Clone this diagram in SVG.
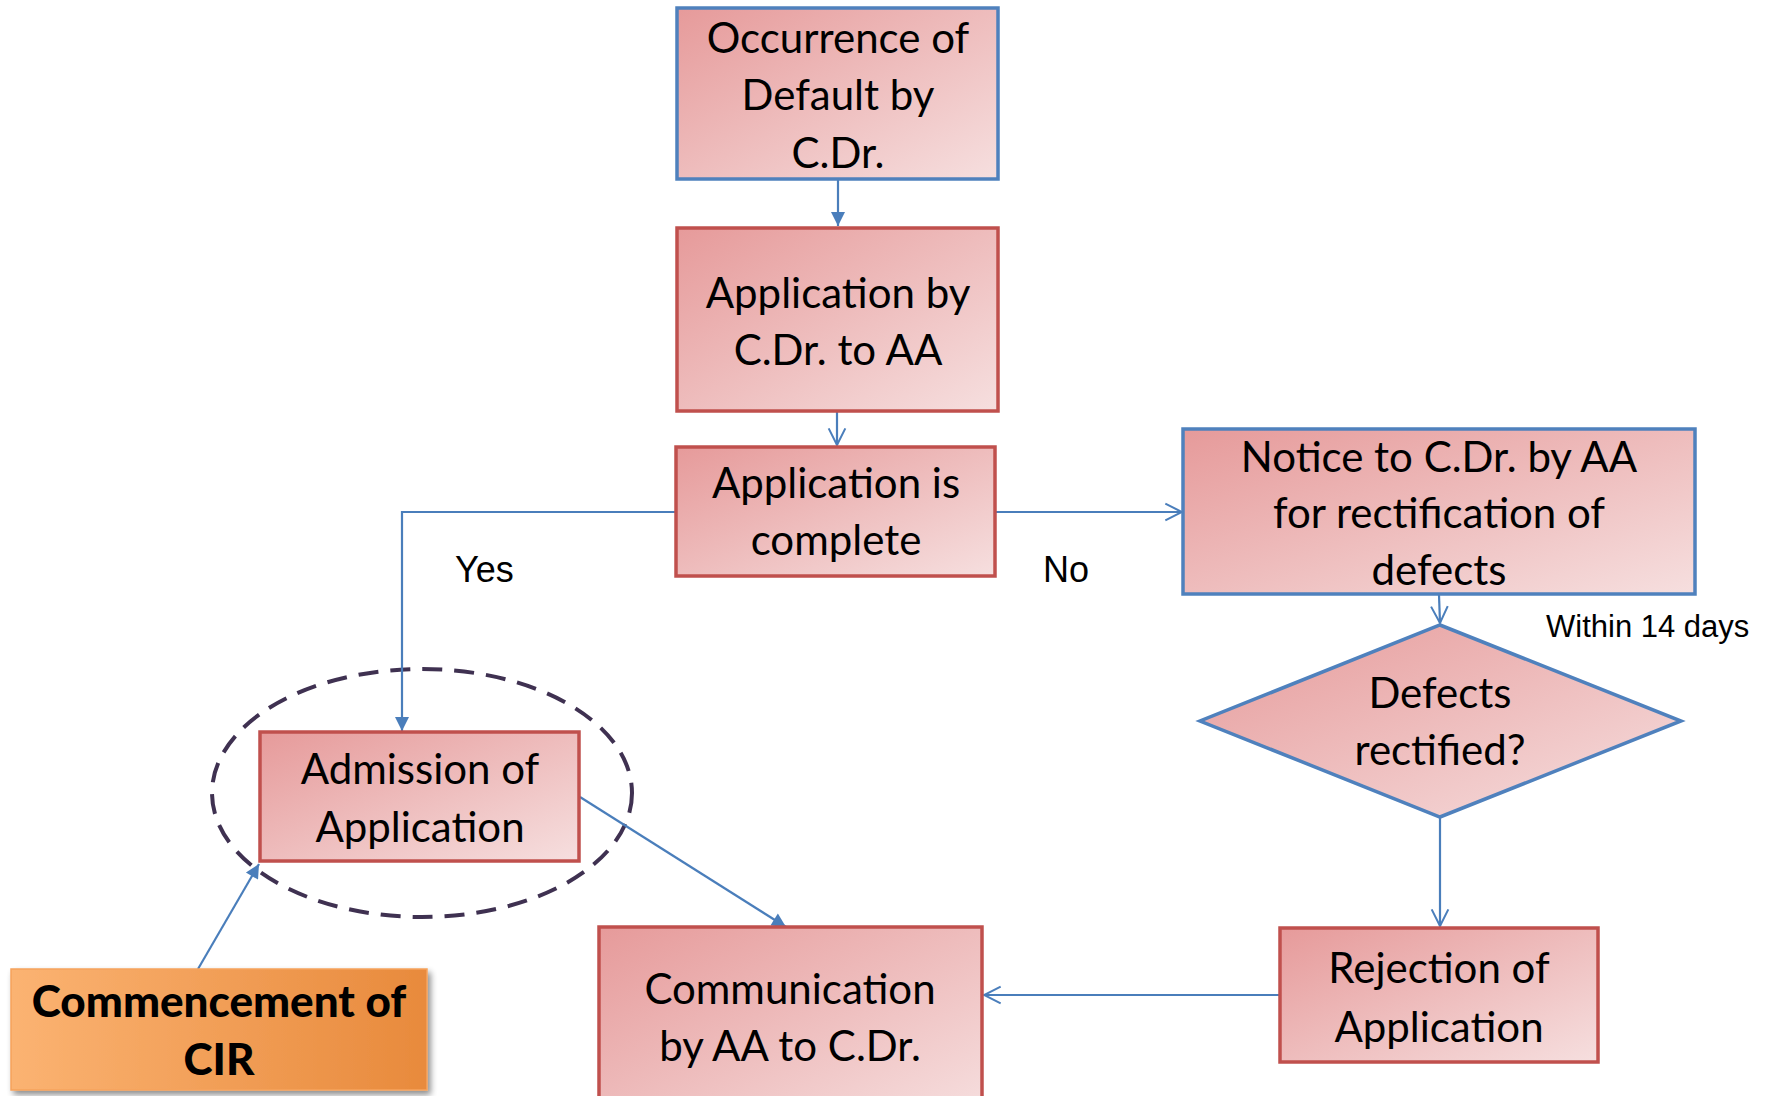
<svg xmlns="http://www.w3.org/2000/svg" width="1772" height="1096" viewBox="0 0 1772 1096">
  <defs>
    <linearGradient id="pink" x1="0" y1="0" x2="1" y2="1">
      <stop offset="0" stop-color="#e69a9a"/>
      <stop offset="1" stop-color="#f6dfdf"/>
    </linearGradient>
    <linearGradient id="orange" x1="0" y1="0" x2="1" y2="0">
      <stop offset="0" stop-color="#fbb372"/>
      <stop offset="1" stop-color="#e88a3c"/>
    </linearGradient>
    <filter id="shadow" x="-10%" y="-10%" width="125%" height="130%">
      <feGaussianBlur in="SourceAlpha" stdDeviation="3"/>
      <feOffset dx="3" dy="4" result="b"/>
      <feComponentTransfer><feFuncA type="linear" slope="0.45"/></feComponentTransfer>
      <feMerge><feMergeNode/><feMergeNode in="SourceGraphic"/></feMerge>
    </filter>
    <marker id="solidBig" viewBox="0 0 10 10" refX="10" refY="5" markerWidth="16" markerHeight="14" markerUnits="userSpaceOnUse" orient="auto">
      <path d="M0,0 L10,5 L0,10 z" fill="#4a7ebb"/>
    </marker>
    <marker id="open" viewBox="0 0 12 12" refX="11" refY="6" markerWidth="20" markerHeight="20" markerUnits="userSpaceOnUse" orient="auto">
      <path d="M1,1 L11,6 L1,11" fill="none" stroke="#4a7ebb" stroke-width="1.2"/>
    </marker>
    <style>
      .box { fill: url(#pink); stroke-width: 3.5; }
      .red { stroke: #c0504d; }
      .blue { stroke: #4f81bd; }
      .t { font-family: Lato, "Noto Sans", "Liberation Sans", sans-serif; font-size: 42px; fill: #000; text-anchor: middle; }
      .tb { font-family: Lato, "Liberation Sans", sans-serif; font-weight: 900; font-size: 44px; fill: #000; text-anchor: middle; }
      .lbl { font-family: "Liberation Sans", Arial, sans-serif; font-size: 36px; fill: #000; }
      .lbls { font-family: "Liberation Sans", Arial, sans-serif; font-size: 31px; fill: #000; }
      .c { fill: none; stroke: #4a7ebb; stroke-width: 2.2; }
    </style>
  </defs>

  <rect width="1772" height="1096" fill="#ffffff"/>

  <!-- dashed ring around the admission step -->
  <ellipse cx="422" cy="793" rx="210" ry="124" fill="none" stroke="#3f3151" stroke-width="4" stroke-dasharray="20 12"/>

  <!-- connectors -->
  <g id="connectors">
    <line class="c" x1="838" y1="180" x2="838" y2="226" marker-end="url(#solidBig)"/>
    <line class="c" x1="837" y1="412" x2="837" y2="445" marker-end="url(#open)"/>
    <polyline class="c" points="676,512 402,512 402,731" marker-end="url(#solidBig)"/>
    <line class="c" x1="996" y1="512" x2="1182" y2="512" marker-end="url(#open)"/>
    <line class="c" x1="1439" y1="595" x2="1440" y2="623" marker-end="url(#open)"/>
    <line class="c" x1="1440" y1="818" x2="1440" y2="926" marker-end="url(#open)"/>
    <line class="c" x1="1280" y1="995" x2="984" y2="995" marker-end="url(#open)"/>
    <line class="c" x1="580" y1="797" x2="786" y2="927" marker-end="url(#solidBig)"/>
    <line class="c" x1="198" y1="969" x2="259" y2="864" marker-end="url(#solidBig)"/>
  </g>

  <!-- connector labels -->
  <text class="lbl" x="455" y="582">Yes</text>
  <text class="lbl" x="1043" y="582">No</text>
  <text class="lbls" x="1546" y="637">Within 14 days</text>

  <g id="occurrence">
    <rect class="box blue" x="677" y="8" width="321" height="171"/>
    <text class="t" x="838" y="53">Occurrence of</text>
    <text class="t" x="838" y="110">Default by</text>
    <text class="t" x="838" y="168">C.Dr.</text>
  </g>

  <g id="application">
    <rect class="box red" x="677" y="228" width="321" height="183"/>
    <text class="t" x="838" y="308">Application by</text>
    <text class="t" x="838" y="365">C.Dr. to AA</text>
  </g>

  <g id="complete">
    <rect class="box red" x="676" y="447" width="319" height="129"/>
    <text class="t" x="836" y="498">Application is</text>
    <text class="t" x="836" y="555">complete</text>
  </g>

  <g id="notice">
    <rect class="box blue" x="1183" y="429" width="512" height="165"/>
    <text class="t" x="1439" y="472">Notice to C.Dr. by AA</text>
    <text class="t" x="1439" y="528">for rectification of</text>
    <text class="t" x="1439" y="585">defects</text>
  </g>

  <g id="rectified">
    <polygon class="box blue" points="1440,625 1681,721 1440,817 1200,721"/>
    <text class="t" x="1440" y="708">Defects</text>
    <text class="t" x="1440" y="765">rectified?</text>
  </g>

  <g id="admission">
    <rect class="box red" x="260" y="732" width="319" height="129"/>
    <text class="t" x="420" y="784">Admission of</text>
    <text class="t" x="420" y="842">Application</text>
  </g>

  <g id="communication">
    <rect class="box red" x="599" y="927" width="383" height="190"/>
    <text class="t" x="790" y="1004">Communication</text>
    <text class="t" x="790" y="1061">by AA to C.Dr.</text>
  </g>

  <g id="rejection">
    <rect class="box red" x="1280" y="928" width="318" height="134"/>
    <text class="t" x="1439" y="983">Rejection of</text>
    <text class="t" x="1439" y="1042">Application</text>
  </g>

  <g id="commencement">
    <rect x="11" y="969" width="416" height="121" fill="url(#orange)" stroke="#f6a35c" stroke-width="1.5" filter="url(#shadow)"/>
    <text class="tb" x="219" y="1017">Commencement of</text>
    <text class="tb" x="219" y="1075">CIR</text>
  </g>
</svg>
